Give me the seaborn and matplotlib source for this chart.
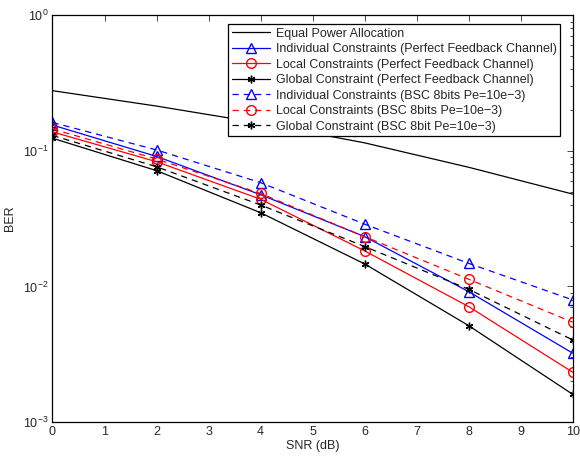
import numpy as np
import pandas as pd
import matplotlib
matplotlib.use("Agg")
import matplotlib.pyplot as plt
import seaborn as sns

# SNR points (dB)
snr = [0, 2, 4, 6, 8, 10]

# BER values
ber_equal = [0.278, 0.214, 0.160, 0.1146, 0.0757, 0.048]
ber_ind_perfect = [0.155, 0.091, 0.0475, 0.0233, 0.00916, 0.00322]
ber_loc_perfect = [0.138, 0.0832, 0.0440, 0.0183, 0.0071, 0.00233]
ber_glob_perfect = [0.124, 0.0715, 0.0350, 0.01466, 0.00514, 0.0016]
ber_ind_bsc = [0.162, 0.1016, 0.0583, 0.0288, 0.0148, 0.00795]
ber_loc_bsc = [0.145, 0.0871, 0.0485, 0.0233, 0.0113, 0.00545]
ber_glob_bsc = [0.130, 0.0764, 0.0399, 0.0197, 0.00953, 0.00403]

labels = [
    "Equal Power Allocation",
    "Individual Constraints (Perfect Feedback Channel)",
    "Local Constraints (Perfect Feedback Channel)",
    "Global Constraint (Perfect Feedback Channel)",
    "Individual Constraints (BSC 8bits Pe=10e\u22123)",
    "Local Constraints (BSC 8bits Pe=10e\u22123)",
    "Global Constraint (BSC 8bit Pe=10e\u22123)",
]
series = [ber_equal, ber_ind_perfect, ber_loc_perfect, ber_glob_perfect,
          ber_ind_bsc, ber_loc_bsc, ber_glob_bsc]

asterisk = (6, 2, 0)
dash = (0, (5, 4))
styles = [
    dict(color="black", ls="-", marker=None, ms=0),
    dict(color="blue", ls="-", marker="^", ms=7),
    dict(color="red", ls="-", marker="o", ms=7),
    dict(color="black", ls="-", marker=asterisk, ms=5.5),
    dict(color="blue", ls=dash, marker="^", ms=7),
    dict(color="red", ls=dash, marker="o", ms=7),
    dict(color="black", ls=dash, marker=asterisk, ms=5.5),
]

df = pd.concat(
    [pd.DataFrame({"SNR": snr, "BER": s, "curve": l}) for s, l in zip(series, labels)],
    ignore_index=True,
)

sns.set_style("white")
plt.rcParams["font.family"] = ["Liberation Sans", "DejaVu Sans"]
plt.rcParams["mathtext.fontset"] = "custom"
plt.rcParams["mathtext.rm"] = "Liberation Sans"
plt.rcParams["mathtext.it"] = "Liberation Sans:italic"

fig = plt.figure(figsize=(5.8, 4.57), dpi=100)
ax = fig.add_axes([0.0905, 0.0766, 0.8969, 0.8899])

for lab, st in zip(labels, styles):
    sub = df[df["curve"] == lab]
    kw = dict(color=st["color"], linestyle=st["ls"], linewidth=0.9, label=lab)
    if st["marker"] is not None:
        kw.update(marker=st["marker"], markersize=st["ms"],
                  markeredgecolor=st["color"], markeredgewidth=1.0,
                  markerfacecolor="none")
    sns.lineplot(data=sub, x="SNR", y="BER", ax=ax, **kw)

ax.set_yscale("log")
ax.set_xlim(0, 10)
ax.set_ylim(1e-3, 1)
ax.set_xticks(range(0, 11))
ax.set_xlabel("SNR (dB)", fontsize=9, labelpad=1)
ax.set_ylabel("BER", fontsize=9, labelpad=5)
ax.tick_params(which="both", direction="in", top=True, right=True,
               labelsize=9, pad=3)
ax.tick_params(which="major", length=4, width=0.6)
ax.tick_params(which="minor", length=2.5, width=0.6)
ax.tick_params(axis="x", which="minor", bottom=False, top=False)
for sp in ax.spines.values():
    sp.set_linewidth(0.9)
    sp.set_color("black")

leg = ax.legend(loc="upper right", bbox_to_anchor=(0.976, 0.979), fontsize=9,
                frameon=True, fancybox=False, handlelength=3.05,
                labelspacing=0.28, borderpad=0.3, handletextpad=0.42,
                borderaxespad=0)
leg.get_frame().set_edgecolor("black")
leg.get_frame().set_linewidth(0.9)
leg.get_frame().set_alpha(1)

fig.savefig("out.png", dpi=100)
